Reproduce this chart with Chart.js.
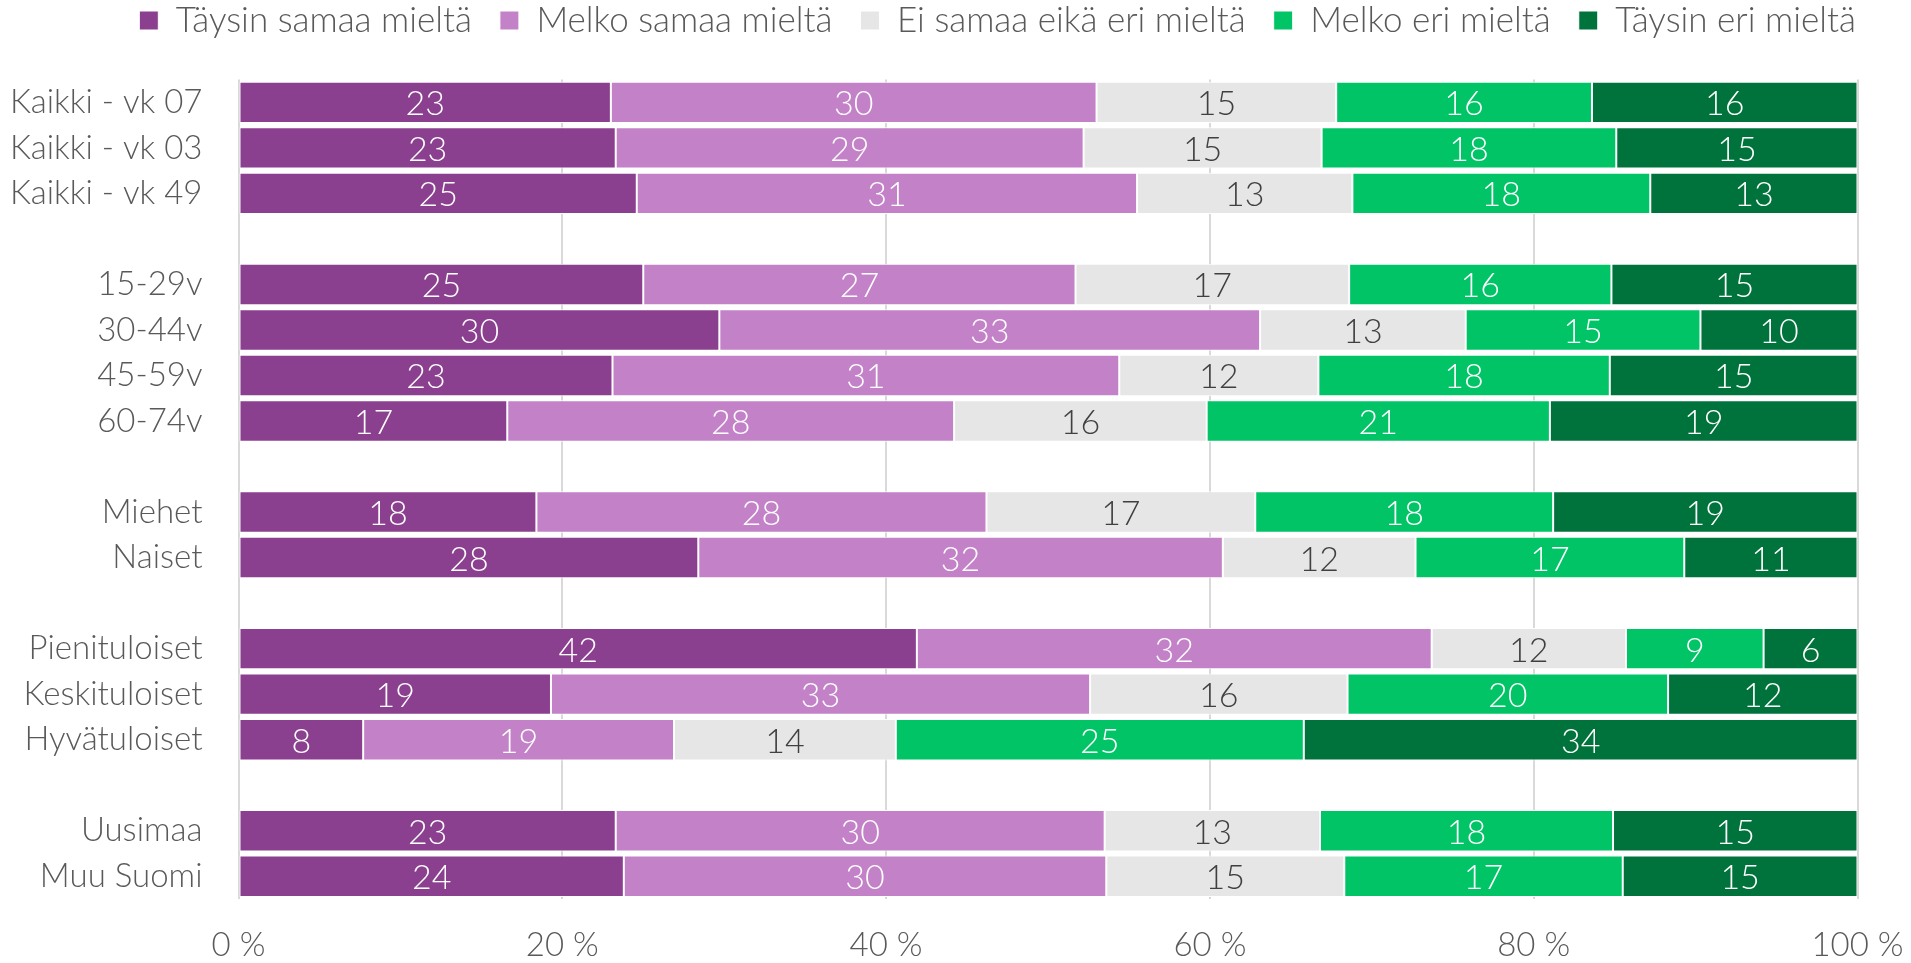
<!DOCTYPE html>
<html>
<head>
<meta charset="utf-8">
<script src="https://cdn.jsdelivr.net/npm/chart.js@4.4.1/dist/chart.umd.min.js"></script>
<style>
  html, body { margin: 0; padding: 0; background: #fff; }
</style>
</head>
<body>
<canvas id="chart" width="1911" height="963"></canvas>
<script>
// rows, '' = empty spacer row between groups
const categories = [
  'Kaikki - vk 07', 'Kaikki - vk 03', 'Kaikki - vk 49', '',
  '15-29v', '30-44v', '45-59v', '60-74v', '',
  'Miehet', 'Naiset', '',
  'Pienituloiset', 'Keskituloiset', 'Hyvätuloiset', '',
  'Uusimaa', 'Muu Suomi'
];

const seriesNames = [
  'Täysin samaa mieltä', 'Melko samaa mieltä', 'Ei samaa eikä eri mieltä',
  'Melko eri mieltä', 'Täysin eri mieltä'
];

const taysinSamaa = [23.0, 23.3, 24.6, null, 25.0, 29.7, 23.1, 16.6, null, 18.4, 28.4, null, 41.9, 19.3, 7.7, null, 23.3, 23.8];
const melkoSamaa  = [30.0, 28.9, 30.9, null, 26.7, 33.4, 31.3, 27.6, null, 27.8, 32.4, null, 31.8, 33.3, 19.2, null, 30.2, 29.8];
const eiSamaaEri  = [14.8, 14.7, 13.3, null, 16.9, 12.7, 12.3, 15.6, null, 16.6, 11.9, null, 12.0, 15.9, 13.7, null, 13.3, 14.7];
const melkoEri    = [15.8, 18.2, 18.4, null, 16.2, 14.5, 18.0, 21.2, null, 18.4, 16.6, null,  8.5, 19.8, 25.2, null, 18.1, 17.2];
const taysinEri   = [16.4, 14.9, 12.8, null, 15.2,  9.7, 15.3, 19.0, null, 18.8, 10.7, null,  5.8, 11.7, 34.2, null, 15.1, 14.5];

const xTicks = [0, 20, 40, 60, 80, 100];

const colors = ['#8b3f8f', '#c382c8', '#e6e6e6', '#00c466', '#00733c'];
const labelColors = ['#ffffff', '#ffffff', '#404040', '#ffffff', '#ffffff'];
const textColor = '#595959';
const fontFamily = 'Lato, "Open Sans", sans-serif';

Chart.defaults.font.family = fontFamily;
Chart.defaults.font.size = 33;
Chart.defaults.font.weight = 300;
Chart.defaults.color = textColor;

const valueLabels = {
  id: 'valueLabels',
  afterDatasetsDraw(chart) {
    const ctx = chart.ctx;
    ctx.save();
    ctx.font = '300 34px ' + fontFamily;
    ctx.textAlign = 'center';
    ctx.textBaseline = 'middle';
    chart.data.datasets.forEach((ds, di) => {
      chart.getDatasetMeta(di).data.forEach((bar, j) => {
        const v = ds.data[j];
        if (v == null) return;
        ctx.fillStyle = labelColors[di];
        ctx.fillText(Math.round(v), (bar.x + bar.base) / 2, bar.y + 2);
      });
    });
    ctx.restore();
  }
};

// keep the legend in the spot it has in the original
const legendPlace = {
  id: 'legendPlace',
  afterInit(chart) {
    const lg = chart.legend;
    const fit = lg.fit;
    lg.fit = function () { fit.call(this); this.height = 79.6; };
  },
  afterLayout(chart) {
    const lg = chart.legend;
    const dx = 997.6 - (lg.left + lg.right) / 2;
    lg.left += dx; lg.right += dx;
    lg.top -= 25; lg.bottom -= 25;
  }
};

const seriesData = [taysinSamaa, melkoSamaa, eiSamaaEri, melkoEri, taysinEri];

new Chart(document.getElementById('chart'), {
  type: 'bar',
  data: {
    labels: categories,
    datasets: seriesData.map((d, i) => ({
      label: seriesNames[i],
      data: d,
      backgroundColor: colors[i],
      borderColor: '#ffffff',
      borderWidth: 1,
      borderSkipped: false,
      barPercentage: 0.91,
      categoryPercentage: 1
    }))
  },
  options: {
    indexAxis: 'y',
    responsive: false,
    animation: false,
    layout: { padding: { top: 0, right: 53.5, bottom: 0, left: 0 } },
    plugins: {
      tooltip: { enabled: false },
      legend: {
        position: 'top',
        labels: {
          boxWidth: 19,
          boxHeight: 19,
          padding: 28,
          color: textColor,
          font: { size: 35, weight: 300 }
        }
      }
    },
    scales: {
      x: {
        stacked: true,
        min: 0,
        max: 100,
        afterBuildTicks(scale) { scale.ticks = xTicks.map(v => ({ value: v })); },
        afterFit(scale) {
          scale.height = 64;
          scale.paddingLeft = 0;
          scale.paddingRight = 0;
        },
        ticks: {
          padding: 27,
          color: textColor,
          callback: v => v + ' %'
        },
        grid: { color: '#d9d9d9', lineWidth: 2, drawTicks: false },
        border: { display: false }
      },
      y: {
        stacked: true,
        afterFit(scale) { scale.width = 238.5; },
        ticks: { padding: 28, color: textColor, autoSkip: false },
        grid: { display: false },
        border: { display: false }
      }
    }
  },
  plugins: [valueLabels, legendPlace]
});
</script>
</body>
</html>
